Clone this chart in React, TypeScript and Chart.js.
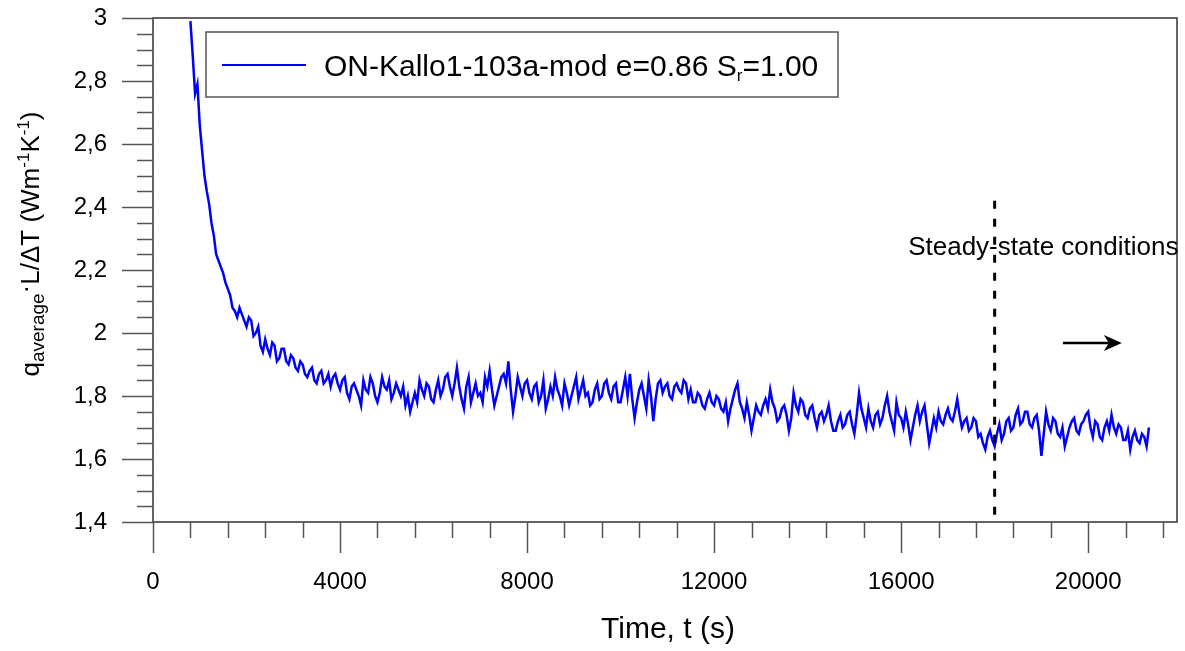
import React, { useEffect, useRef } from "react";
import { Chart, registerables } from "chart.js";

Chart.register(...registerables);

// ---------------- data ----------------
const times = [
  800, 850, 900, 950,
  1000, 1050, 1100, 1150, 1200, 1250, 1300, 1350, 1400, 1450, 1500, 1550, 1600, 1650, 1700, 1750, 1800, 1850, 1900, 1950,
  2000, 2050, 2100, 2150, 2200, 2250, 2300, 2350, 2400, 2450, 2500, 2550, 2600, 2650, 2700, 2750, 2800, 2850, 2900, 2950,
  3000, 3050, 3100, 3150, 3200, 3250, 3300, 3350, 3400, 3450, 3500, 3550, 3600, 3650, 3700, 3750, 3800, 3850, 3900, 3950,
  4000, 4050, 4100, 4150, 4200, 4250, 4300, 4350, 4400, 4450, 4500, 4550, 4600, 4650, 4700, 4750, 4800, 4850, 4900, 4950,
  5000, 5050, 5100, 5150, 5200, 5250, 5300, 5350, 5400, 5450, 5500, 5550, 5600, 5650, 5700, 5750, 5800, 5850, 5900, 5950,
  6000, 6050, 6100, 6150, 6200, 6250, 6300, 6350, 6400, 6450, 6500, 6550, 6600, 6650, 6700, 6750, 6800, 6850, 6900, 6950,
  7000, 7050, 7100, 7150, 7200, 7250, 7300, 7350, 7400, 7450, 7500, 7550, 7600, 7650, 7700, 7750, 7800, 7850, 7900, 7950,
  8000, 8050, 8100, 8150, 8200, 8250, 8300, 8350, 8400, 8450, 8500, 8550, 8600, 8650, 8700, 8750, 8800, 8850, 8900, 8950,
  9000, 9050, 9100, 9150, 9200, 9250, 9300, 9350, 9400, 9450, 9500, 9550, 9600, 9650, 9700, 9750, 9800, 9850, 9900, 9950,
  10000, 10050, 10100, 10150, 10200, 10250, 10300, 10350, 10400, 10450, 10500, 10550, 10600, 10650, 10700, 10750, 10800, 10850, 10900, 10950,
  11000, 11050, 11100, 11150, 11200, 11250, 11300, 11350, 11400, 11450, 11500, 11550, 11600, 11650, 11700, 11750, 11800, 11850, 11900, 11950,
  12000, 12050, 12100, 12150, 12200, 12250, 12300, 12350, 12400, 12450, 12500, 12550, 12600, 12650, 12700, 12750, 12800, 12850, 12900, 12950,
  13000, 13050, 13100, 13150, 13200, 13250, 13300, 13350, 13400, 13450, 13500, 13550, 13600, 13650, 13700, 13750, 13800, 13850, 13900, 13950,
  14000, 14050, 14100, 14150, 14200, 14250, 14300, 14350, 14400, 14450, 14500, 14550, 14600, 14650, 14700, 14750, 14800, 14850, 14900, 14950,
  15000, 15050, 15100, 15150, 15200, 15250, 15300, 15350, 15400, 15450, 15500, 15550, 15600, 15650, 15700, 15750, 15800, 15850, 15900, 15950,
  16000, 16050, 16100, 16150, 16200, 16250, 16300, 16350, 16400, 16450, 16500, 16550, 16600, 16650, 16700, 16750, 16800, 16850, 16900, 16950,
  17000, 17050, 17100, 17150, 17200, 17250, 17300, 17350, 17400, 17450, 17500, 17550, 17600, 17650, 17700, 17750, 17800, 17850, 17900, 17950,
  18000, 18050, 18100, 18150, 18200, 18250, 18300, 18350, 18400, 18450, 18500, 18550, 18600, 18650, 18700, 18750, 18800, 18850, 18900, 18950,
  19000, 19050, 19100, 19150, 19200, 19250, 19300, 19350, 19400, 19450, 19500, 19550, 19600, 19650, 19700, 19750, 19800, 19850, 19900, 19950,
  20000, 20050, 20100, 20150, 20200, 20250, 20300, 20350, 20400, 20450, 20500, 20550, 20600, 20650, 20700, 20750, 20800, 20850, 20900, 20950,
  21000, 21050, 21100, 21150, 21200, 21250, 21300,
];

const qValues = [
  2.99, 2.88, 2.76, 2.79,
  2.66, 2.58, 2.50, 2.45, 2.41, 2.35, 2.31, 2.25, 2.23, 2.21, 2.19, 2.16, 2.14, 2.12, 2.08, 2.07, 2.05, 2.08, 2.06, 2.04,
  2.02, 2.05, 2.04, 1.99, 2.00, 2.02, 1.96, 1.94, 1.98, 1.95, 1.93, 1.97, 1.96, 1.91, 1.92, 1.95, 1.95, 1.91, 1.90, 1.93,
  1.92, 1.89, 1.88, 1.91, 1.90, 1.87, 1.86, 1.88, 1.89, 1.85, 1.84, 1.87, 1.88, 1.84, 1.85, 1.87, 1.83, 1.86, 1.87, 1.84,
  1.82, 1.85, 1.86, 1.81, 1.79, 1.83, 1.84, 1.82, 1.80, 1.77, 1.85, 1.82, 1.81, 1.86, 1.84, 1.80, 1.78, 1.81, 1.86, 1.83,
  1.82, 1.85, 1.79, 1.81, 1.84, 1.82, 1.80, 1.83, 1.77, 1.80, 1.75, 1.78, 1.81, 1.78, 1.85, 1.82, 1.80, 1.84, 1.83, 1.79,
  1.78, 1.82, 1.85, 1.80, 1.82, 1.86, 1.87, 1.83, 1.80, 1.84, 1.89, 1.83, 1.79, 1.76, 1.83, 1.86, 1.78, 1.81, 1.84, 1.80,
  1.81, 1.78, 1.86, 1.83, 1.88, 1.82, 1.77, 1.80, 1.83, 1.86, 1.87, 1.84, 1.91, 1.82, 1.75, 1.80, 1.86, 1.83, 1.80, 1.84,
  1.85, 1.81, 1.79, 1.83, 1.84, 1.78, 1.80, 1.85, 1.76, 1.79, 1.83, 1.80, 1.86, 1.82, 1.80, 1.77, 1.84, 1.81, 1.77, 1.80,
  1.83, 1.86, 1.79, 1.82, 1.85, 1.80, 1.81, 1.77, 1.78, 1.82, 1.84, 1.79, 1.80, 1.84, 1.85, 1.81, 1.79, 1.83, 1.84, 1.78,
  1.78, 1.82, 1.86, 1.80, 1.87, 1.79, 1.73, 1.78, 1.82, 1.84, 1.80, 1.76, 1.85, 1.80, 1.72, 1.79, 1.84, 1.85, 1.81, 1.83,
  1.84, 1.80, 1.79, 1.83, 1.84, 1.82, 1.81, 1.85, 1.84, 1.79, 1.82, 1.78, 1.78, 1.81, 1.80, 1.77, 1.76, 1.79, 1.81, 1.78,
  1.77, 1.80, 1.79, 1.76, 1.75, 1.78, 1.72, 1.76, 1.79, 1.82, 1.84, 1.78, 1.76, 1.73, 1.78, 1.74, 1.69, 1.73, 1.77, 1.75,
  1.74, 1.77, 1.79, 1.76, 1.82, 1.78, 1.76, 1.72, 1.73, 1.76, 1.77, 1.74, 1.69, 1.73, 1.81, 1.77, 1.75, 1.79, 1.78, 1.74,
  1.73, 1.76, 1.77, 1.73, 1.70, 1.74, 1.75, 1.72, 1.74, 1.77, 1.72, 1.69, 1.69, 1.72, 1.74, 1.70, 1.71, 1.74, 1.75, 1.71,
  1.68, 1.74, 1.81, 1.76, 1.73, 1.70, 1.76, 1.72, 1.70, 1.74, 1.75, 1.71, 1.73, 1.77, 1.80, 1.75, 1.72, 1.69, 1.78, 1.74,
  1.73, 1.70, 1.75, 1.71, 1.66, 1.70, 1.74, 1.77, 1.72, 1.75, 1.77, 1.71, 1.65, 1.69, 1.73, 1.70, 1.75, 1.72, 1.71, 1.74,
  1.76, 1.73, 1.72, 1.75, 1.79, 1.74, 1.70, 1.72, 1.73, 1.69, 1.70, 1.73, 1.72, 1.67, 1.68, 1.65, 1.63, 1.67, 1.69, 1.66,
  1.64, 1.68, 1.71, 1.66, 1.68, 1.72, 1.73, 1.69, 1.70, 1.74, 1.76, 1.71, 1.72, 1.75, 1.75, 1.71, 1.70, 1.73, 1.74, 1.69,
  1.61, 1.68, 1.75, 1.71, 1.69, 1.73, 1.72, 1.68, 1.67, 1.70, 1.64, 1.67, 1.70, 1.72, 1.73, 1.69, 1.68, 1.71, 1.72, 1.74,
  1.75, 1.70, 1.67, 1.72, 1.71, 1.67, 1.66, 1.70, 1.72, 1.69, 1.74, 1.70, 1.68, 1.71, 1.70, 1.66, 1.66, 1.69, 1.63, 1.67,
  1.69, 1.66, 1.65, 1.68, 1.67, 1.64, 1.70,
];

const xTickValues = [0, 4000, 8000, 12000, 16000, 20000];
const xTickLabels = ["0", "4000", "8000", "12000", "16000", "20000"];
const yTickValues = [1.4, 1.6, 1.8, 2.0, 2.2, 2.4, 2.6, 2.8, 3.0];
const yTickLabels = ["1,4", "1,6", "1,8", "2", "2,2", "2,4", "2,6", "2,8", "3"];
const xMin = 0;
const xMax = 21900;
const yMin = 1.4;
const yMax = 3.0;
const xMinorStep = 800;
const yMinorStep = 0.05;

const seriesLabelMain = "ON-Kallo1-103a-mod e=0.86 S";
const seriesLabelSub = "r";
const seriesLabelTail = "=1.00";
const xTitle = "Time, t (s)";

const steadyTime = 18000;
const steadyLineTop = 2.42;
const steadyText = "Steady-state conditions";
const steadyTextX = 16150;
const steadyTextY = 2.27;
const arrowFrom = [19460, 1.968];
const arrowTo = [20720, 1.968];

// ---------------- helpers ----------------
const FONT = '"Liberation Sans", Arial, Helvetica, sans-serif';
const BLUE = "#0000ff";

type Seg = { t: string; size: number; dy: number };

function drawSegs(ctx: CanvasRenderingContext2D, segs: Seg[], x: number, y: number, align: "left" | "center") {
  let total = 0;
  for (const s of segs) {
    ctx.font = `${s.size}px ${FONT}`;
    total += ctx.measureText(s.t).width;
  }
  let cx = align === "center" ? x - total / 2 : x;
  ctx.textAlign = "left";
  ctx.textBaseline = "alphabetic";
  for (const s of segs) {
    ctx.font = `${s.size}px ${FONT}`;
    ctx.fillText(s.t, cx, y + s.dy);
    cx += ctx.measureText(s.t).width;
  }
}

const overlayPlugin = {
  id: "overlay",
  afterDatasetsDraw(chart: any) {
    const { ctx, chartArea: a, scales } = chart;
    const xs = scales.x;
    const ys = scales.y;
    ctx.save();

    // frame
    ctx.strokeStyle = "#333";
    ctx.lineWidth = 1.5;
    ctx.strokeRect(a.left, a.top, a.right - a.left, a.bottom - a.top);

    // ticks (outside)
    ctx.strokeStyle = "#555";
    ctx.lineWidth = 1.5;
    for (let i = 0; xMin + i * xMinorStep <= xMax; i++) {
      const v = xMin + i * xMinorStep;
      const px = Math.round(xs.getPixelForValue(v)) + 0.5;
      const major = xTickValues.some((t) => Math.abs(t - v) < 1e-6);
      ctx.beginPath();
      ctx.moveTo(px, a.bottom);
      ctx.lineTo(px, a.bottom + (major ? 31 : 16));
      ctx.stroke();
    }
    for (let i = 0; yMin + i * yMinorStep <= yMax + 1e-9; i++) {
      const v = yMin + i * yMinorStep;
      const py = Math.round(ys.getPixelForValue(v)) + 0.5;
      const major = yTickValues.some((t) => Math.abs(t - v) < 1e-6);
      ctx.beginPath();
      ctx.moveTo(a.left, py);
      ctx.lineTo(a.left - (major ? 31 : 16), py);
      ctx.stroke();
    }

    // steady-state dashed line
    const sx = xs.getPixelForValue(steadyTime);
    ctx.strokeStyle = "#000";
    ctx.lineWidth = 3;
    ctx.setLineDash([8, 10]);
    ctx.beginPath();
    ctx.moveTo(sx, ys.getPixelForValue(steadyLineTop));
    ctx.lineTo(sx, a.bottom + 2);
    ctx.stroke();
    ctx.setLineDash([]);

    // annotation text
    ctx.fillStyle = "#000";
    ctx.font = `26px ${FONT}`;
    ctx.textAlign = "left";
    ctx.textBaseline = "middle";
    ctx.fillText(steadyText, xs.getPixelForValue(steadyTextX), ys.getPixelForValue(steadyTextY));

    // arrow
    const ax1 = xs.getPixelForValue(arrowFrom[0]);
    const ay = ys.getPixelForValue(arrowFrom[1]);
    const ax2 = xs.getPixelForValue(arrowTo[0]);
    ctx.lineWidth = 2.5;
    ctx.beginPath();
    ctx.moveTo(ax1, ay);
    ctx.lineTo(ax2 - 6, ay);
    ctx.stroke();
    ctx.beginPath();
    ctx.moveTo(ax2, ay);
    ctx.lineTo(ax2 - 18, ay - 8);
    ctx.lineTo(ax2 - 13, ay);
    ctx.lineTo(ax2 - 18, ay + 8);
    ctx.closePath();
    ctx.fill();

    // legend
    const lx = 206, ly = 32, lw = 632, lh = 65;
    ctx.fillStyle = "#fff";
    ctx.fillRect(lx, ly, lw, lh);
    ctx.strokeStyle = "#555";
    ctx.lineWidth = 1.5;
    ctx.strokeRect(lx, ly, lw, lh);
    ctx.strokeStyle = BLUE;
    ctx.lineWidth = 2;
    ctx.beginPath();
    ctx.moveTo(222, 65);
    ctx.lineTo(306, 65);
    ctx.stroke();
    ctx.fillStyle = "#000";
    drawSegs(
      ctx,
      [
        { t: seriesLabelMain, size: 30, dy: 0 },
        { t: seriesLabelSub, size: 17, dy: 5 },
        { t: seriesLabelTail, size: 30, dy: 0 },
      ],
      324,
      76,
      "left"
    );

    // x title
    ctx.fillStyle = "#000";
    ctx.font = `30px ${FONT}`;
    ctx.textAlign = "center";
    ctx.textBaseline = "middle";
    ctx.fillText(xTitle, (a.left + a.right) / 2 + 3, 630);

    // y title (rotated)
    ctx.save();
    ctx.translate(38.5, 244);
    ctx.rotate(-Math.PI / 2);
    ctx.fillStyle = "#000";
    drawSegs(
      ctx,
      [
        { t: "q", size: 26, dy: 0 },
        { t: "average", size: 19, dy: 5 },
        { t: "·", size: 26, dy: -5 },
        { t: "L/ΔT (Wm", size: 26, dy: 0 },
        { t: "-1", size: 17, dy: -10 },
        { t: "K", size: 26, dy: 0 },
        { t: "-1", size: 17, dy: -10 },
        { t: ")", size: 26, dy: 0 },
      ],
      0,
      0,
      "center"
    );
    ctx.restore();

    ctx.restore();
  },
};

export default function App() {
  const canvasRef = useRef<HTMLCanvasElement | null>(null);

  useEffect(() => {
    const canvas = canvasRef.current;
    if (!canvas) return;
    const points = times.map((t, i) => ({ x: t, y: qValues[i] }));
    const chart = new Chart(canvas, {
      type: "scatter",
      data: {
        datasets: [
          {
            label: seriesLabelMain + seriesLabelSub + seriesLabelTail,
            data: points,
            showLine: true,
            borderColor: BLUE,
            backgroundColor: BLUE,
            borderWidth: 2.5,
            pointRadius: 0,
            pointHoverRadius: 0,
            tension: 0,
          },
        ],
      },
      options: {
        animation: false,
        responsive: false,
        devicePixelRatio: 1,
        events: [],
        layout: { padding: { left: 0, top: 18, right: 8, bottom: 0 } },
        plugins: {
          legend: { display: false },
          tooltip: { enabled: false },
          title: { display: false },
        },
        scales: {
          x: {
            type: "linear",
            min: xMin,
            max: xMax,
            grid: { display: false, drawTicks: false },
            border: { display: false },
            afterBuildTicks: (scale: any) => {
              scale.ticks = xTickValues.map((v) => ({ value: v }));
            },
            afterFit: (scale: any) => {
              scale.height = 129;
              scale.paddingLeft = 0;
              scale.paddingRight = 0;
            },
            ticks: {
              padding: 46,
              maxRotation: 0,
              autoSkip: false,
              color: "#000",
              font: { family: FONT, size: 24 },
              callback: (v: any) => {
                const i = xTickValues.indexOf(Number(v));
                return i >= 0 ? xTickLabels[i] : "";
              },
            },
          },
          y: {
            type: "linear",
            min: yMin,
            max: yMax,
            grid: { display: false, drawTicks: false },
            border: { display: false },
            afterBuildTicks: (scale: any) => {
              scale.ticks = yTickValues.map((v) => ({ value: v }));
            },
            afterFit: (scale: any) => {
              scale.width = 153;
              scale.paddingTop = 0;
              scale.paddingBottom = 0;
            },
            ticks: {
              padding: 46,
              autoSkip: false,
              color: "#000",
              font: { family: FONT, size: 24 },
              callback: (v: any) => {
                const i = yTickValues.findIndex((t) => Math.abs(t - Number(v)) < 1e-6);
                return i >= 0 ? yTickLabels[i] : "";
              },
            },
          },
        },
      },
      plugins: [overlayPlugin],
    });
    return () => chart.destroy();
  }, []);

  return (
    <div style={{ position: "absolute", left: 0, top: 0, width: 1185, height: 651, background: "#fff" }}>
      <canvas ref={canvasRef} width={1185} height={651} style={{ display: "block" }} />
    </div>
  );
}
